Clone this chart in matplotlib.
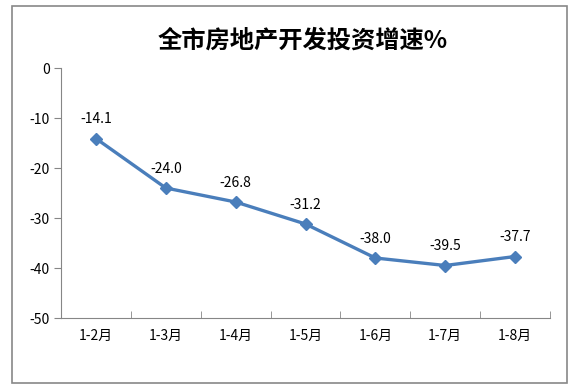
import matplotlib.pyplot as plt
from matplotlib.patches import Rectangle

plt.rcParams['font.family'] = ['Noto Sans CJK SC', 'DejaVu Sans']
plt.rcParams['axes.unicode_minus'] = False

months = ['1-2月', '1-3月', '1-4月', '1-5月', '1-6月', '1-7月', '1-8月']
growth = [-14.1, -24.0, -26.8, -31.2, -38.0, -39.5, -37.7]

fig = plt.figure(figsize=(5.78, 3.91), dpi=100)
# axes box measured in pixels from the reference
ax = fig.add_axes([61 / 578, 1 - 318 / 391, 489 / 578, 250 / 391])

x = list(range(len(months)))
ax.plot(x, growth, color='#4a7ebb', linewidth=2.4, marker='D', markersize=6.5)
for xi, v in zip(x, growth):
    ax.annotate(f'{v:.1f}', (xi, v), xytext=(0, 14), textcoords='offset points',
                ha='center', va='center', fontsize=10)

ax.set_xlim(-0.5, len(months) - 0.5)
ax.set_ylim(-50, 0)
ax.set_yticks(range(-50, 1, 10))
ax.set_xticks(x)
ax.set_xticklabels(months, fontsize=10)
ax.set_xticks([i - 0.5 for i in range(len(months) + 1)], minor=True)
ax.tick_params(axis='x', which='major', length=0, pad=8)
ax.tick_params(axis='x', which='minor', direction='in', length=5, color='#868686')
ax.tick_params(axis='y', direction='out', length=5, color='#868686', labelsize=10, pad=3)

for s in ['top', 'right']:
    ax.spines[s].set_visible(False)
for s in ['left', 'bottom']:
    ax.spines[s].set_color('#868686')

fig.text(303 / 578, 1 - 41 / 391, '全市房地产开发投资增速%', ha='center', va='center',
         fontsize=17.5, fontweight='bold')

fig.patches.append(Rectangle((12.5 / 578, 1 - 383 / 391), 554 / 578, 377 / 391,
                             transform=fig.transFigure, fill=False,
                             edgecolor='#888888', linewidth=1.2))

fig.savefig('out.png', dpi=100)
